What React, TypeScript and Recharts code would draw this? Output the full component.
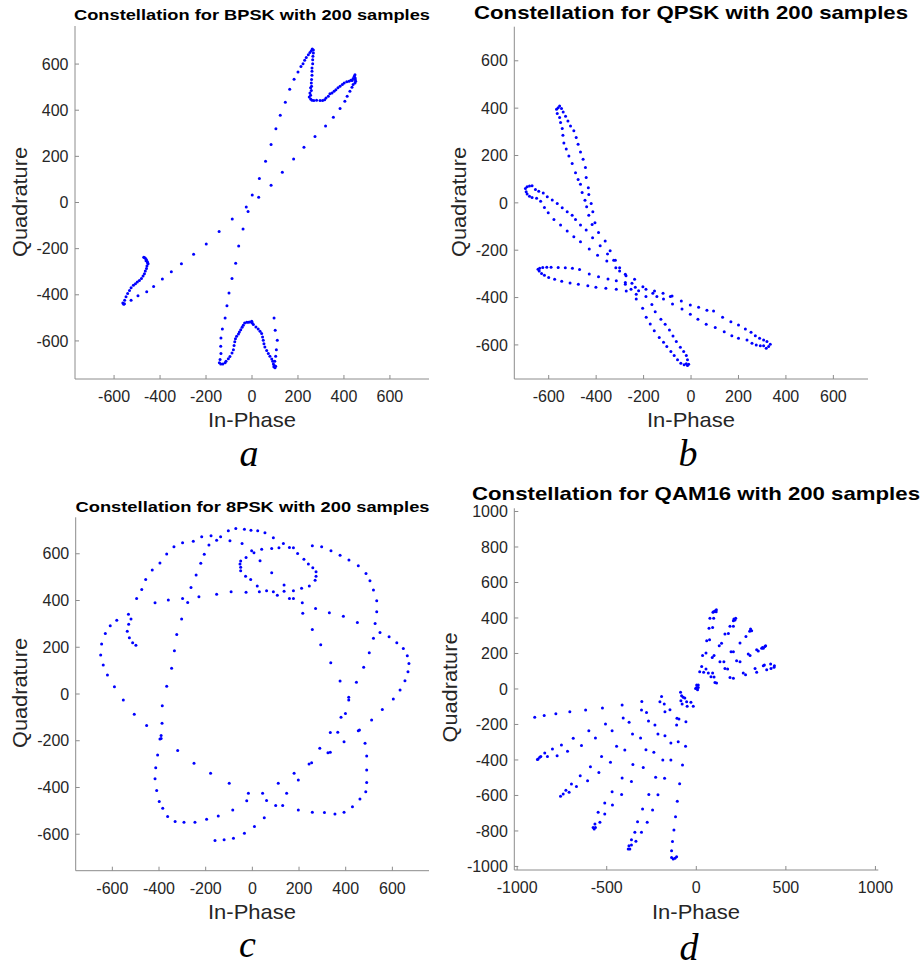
import React from 'react';
import { ScatterChart, Scatter, XAxis, YAxis } from 'recharts';

type Pt = [number, number];

const pskTicks = [-600, -400, -200, 0, 200, 400, 600];
const qamXTicks = [-1000, -500, 0, 500, 1000];
const qamYTicks = [-1000, -800, -600, -400, -200, 0, 200, 400, 600, 800, 1000];

const bpskPoints: Pt[] = [
  [1, 33], [32, 104], [59, 179], [83, 251], [104, 320], [123, 378], [145, 434], [164, 491], [183, 534], [200, 566],
  [213, 590], [222, 601], [229, 617], [236, 629], [245, 640], [252, 650], [258, 658], [262, 665], [267, 661],
  [267, 648], [265, 634], [264, 619], [264, 601], [261, 583], [261, 569], [261, 552], [259, 533], [258, 518], [259, 504],
  [255, 497], [258, 485], [252, 475], [255, 465], [249, 457], [255, 449], [261, 443], [269, 442], [281, 443], [296, 442],
  [307, 442], [316, 445], [322, 453], [332, 461], [339, 471], [348, 475], [357, 482], [365, 489], [374, 497], [383, 504],
  [393, 511], [401, 518], [412, 523], [422, 526], [430, 530], [436, 529], [440, 537], [445, 547], [448, 554], [449, 540],
  [449, 533], [451, 526], [448, 518], [440, 511], [435, 500], [426, 482],
  [414, 461], [404, 439], [383, 407], [354, 369], [320, 332], [274, 286], [226, 240], [181, 188], [132, 131], [83, 75], [29, 23],
  [-25, -20], [-17, -39], [-86, -72], [-143, -126], [-199, -180], [-254, -224], [-307, -266], [-351, -300], [-390, -332],
  [-428, -364], [-458, -387], [-496, -404], [-526, -424], [-555, -439],
  [-39, -115], [-58, -188], [-71, -263], [-87, -329], [-100, -392], [-109, -447], [-117, -501],
  [-471, -237], [-464, -242], [-459, -248], [-455, -257], [-452, -265], [-457, -275], [-459, -286], [-464, -297],
  [-468, -309], [-474, -319], [-481, -329], [-490, -338], [-499, -345], [-507, -352], [-516, -359], [-526, -369],
  [-533, -381], [-541, -394], [-548, -408], [-554, -424], [-562, -436], [-558, -441], [-467, -240], [-461, -252], [-454, -262],
  [-129, -548], [-135, -587], [-136, -623], [-135, -655], [-139, -681], [-142, -695], [-136, -700], [-127, -700], [-117, -695],
  [-113, -688], [-103, -677], [-96, -667], [-87, -652], [-81, -638], [-78, -620], [-75, -604], [-72, -591], [-67, -580],
  [-59, -570], [-55, -561], [-49, -551], [-43, -541], [-38, -532], [-32, -522], [-23, -519], [-16, -519], [-9, -518],
  [-1, -515], [1, -522], [6, -529], [17, -540], [27, -548], [35, -558], [42, -568], [46, -583], [49, -597], [52, -612],
  [56, -626], [64, -641], [71, -655], [78, -666], [86, -678], [90, -688], [93, -700], [97, -707], [103, -710],
  [96, -501], [101, -554], [110, -597], [106, -638], [103, -666], [99, -688], [100, -716], [95, -712],
];

const qpskPoints: Pt[] = [
  [-554, 409], [-560, 402], [-567, 395], [-546, 398], [-564, 377], [-539, 384], [-554, 360], [-529, 366], [-550, 339],
  [-519, 346], [-543, 314], [-508, 325], [-540, 286], [-494, 304], [-536, 253], [-484, 276], [-526, 227], [-476, 248],
  [-515, 198], [-466, 215], [-501, 166], [-455, 184], [-487, 127], [-445, 149], [-476, 99], [-442, 107], [-466, 79],
  [-433, 64], [-459, 44], [-431, 35], [-447, 11], [-421, -3], [-440, -17], [-414, -38], [-431, -52], [-405, -84], [-417, -91],
  [-691, 68], [-681, 71], [-670, 72], [-698, 61], [-695, 47], [-691, 37], [-681, 28], [-670, 23], [-656, 56], [-651, 19],
  [-642, 49], [-623, 42], [-634, 7], [-618, -20], [-606, 26], [-585, 12], [-602, -42], [-564, -3], [-578, -70], [-543, -21],
  [-550, -94], [-522, -38], [-522, -119], [-501, -52], [-494, -143], [-487, -70], [-466, -164], [-466, -94],
  [-645, -280], [-638, -276], [-625, -273], [-608, -272], [-590, -272], [-560, -273], [-530, -274], [-500, -276], [-470, -281],
  [-640, -288], [-630, -298], [-618, -306], [-600, -315], [-575, -323], [-545, -331], [-510, -338], [-475, -344],
  [-442, -115], [-390, -125], [-415, -147], [-362, -161], [-429, -195], [-383, -181], [-341, -202], [-394, -221], [-352, -216],
  [-326, -242], [-319, -242], [-355, -246], [-317, -274], [-301, -274], [-301, -288], [-429, -301], [-390, -312], [-350, -322],
  [-315, -329], [-277, -302], [-274, -308], [-238, -323], [-277, -336], [-249, -340], [-277, -344], [-435, -350], [-401, -357],
  [-359, -361], [-315, -365], [-273, -372], [-253, -365], [-235, -357], [-221, -371], [-203, -354], [-190, -365], [-231, -386],
  [-190, -396], [-231, -406], [-161, -382], [-154, -372], [-144, -396], [-118, -382], [-116, -406], [-87, -396], [-80, -393],
  [-78, -427], [-41, -415], [-38, -448], [-3, -431], [-3, -471], [32, -441], [67, -454], [95, -457], [-204, -445], [-165, -429],
  [-151, -460],
  [133, -483], [168, -502], [200, -516], [229, -533], [253, -547], [271, -561], [289, -572], [306, -579], [320, -586],
  [334, -597], [327, -607], [317, -614], [306, -604], [292, -604], [275, -600], [257, -593], [236, -579], [200, -572],
  [172, -561], [140, -544], [102, -527], [64, -513], [29, -492],
  [-189, -483], [-172, -512], [-155, -540], [-134, -569], [-116, -589], [-102, -607], [-85, -628], [-71, -645], [-57, -663],
  [-43, -677], [-29, -684], [-15, -687], [-127, -492], [-109, -513], [-91, -537], [-76, -562], [-62, -586], [-45, -610],
  [-31, -628], [-20, -645], [-15, -663], [-10, -682], [-20, -680],
];

const psk8Points: Pt[] = [
  [-650, 167], [-646, 214], [-639, 124], [-630, 259], [-621, 81], [-609, 292], [-591, 31], [-581, 316], [-553, -26],
  [-506, -87], [-453, -135],
  [-531, 341], [-520, 321], [-530, 298], [-536, 269], [-527, 241], [-513, 219], [-499, 209],
  [-496, 409], [-474, 447], [-457, 490], [-429, 530], [-396, 561], [-367, 599], [-336, 630], [-299, 647], [-253, 654],
  [-217, 673], [-177, 677], [-136, 673], [-103, 698], [-71, 708], [-34, 705], [-6, 701], [23, 698], [54, 690], [90, 668],
  [133, 644], [159, 627], [176, 626],
  [257, 634], [297, 630], [337, 613], [376, 594], [414, 573], [454, 549], [487, 516], [504, 485], [519, 445], [533, 399],
  [533, 352], [526, 302], [519, 238], [501, 177], [477, 114], [446, 50], [413, -14], [413, -26], [399, -83], [366, -164],
  [334, -249],
  [547, 263], [586, 245], [619, 219], [647, 195], [664, 164], [671, 131], [667, 95], [654, 57], [633, 17], [604, -21],
  [557, -66], [511, -111], [459, -154], [454, -157], [483, -211], [490, -265], [490, -325], [490, -379], [486, -418],
  [461, -449], [429, -482], [393, -506], [354, -513], [309, -507], [257, -506], [197, -496], [130, -477], [100, -477],
  [61, -456], [51, -529], [9, -567], [-34, -596], [-81, -617], [-121, -624], [-160, -627],
  [-17, -425], [44, -425], [-24, -457], [-146, -522], [-196, -536], [-246, -549], [-293, -549], [-331, -546], [-363, -524],
  [-384, -489], [-399, -460], [-410, -413], [-417, -363], [-414, -315], [-406, -261], [-396, -192], [-391, -178],
  [-387, -125], [-386, -50], [-367, 33], [-346, 110], [-334, 185], [-324, 255], [-303, 321], [-299, 409],
  [-360, 402], [-417, 390], [-277, 392], [-229, 416], [-153, 427], [-91, 437], [-27, 435], [30, 437], [61, 442], [107, 423],
  [136, 440], [176, 442], [176, 409], [159, 409], [214, 390], [216, 345], [257, 276], [271, 366], [330, 348], [390, 333],
  [450, 306],
  [293, 211], [336, 134], [376, 56], [380, -100], [393, -204], [334, -165], [289, -232], [324, -251], [254, -294],
  [243, -299], [197, -368], [179, -339], [147, -425], [111, -382],
  [-50, 569], [-53, 556], [-50, 542], [-50, 527], [-29, 504], [-7, 490], [21, 462], [-27, 584], [-3, 613], [7, 604],
  [40, 619], [33, 570], [83, 519], [83, 623], [114, 626], [194, 601], [221, 576], [240, 556], [259, 540], [273, 523],
  [273, 504], [269, 487], [244, 462], [211, 452], [136, 466], [90, 438],
  [-186, 637], [-206, 598], [-221, 559], [-241, 509], [-263, 456], [-153, 658], [-96, 656], [-44, 644],
  [-391, -190], [-320, -242], [-250, -296], [-179, -339], [-99, -382], [-84, -496],
];

const qam16Points: Pt[] = [
  [112, 447], [111, 435], [97, 435], [104, 440], [93, 432], [76, 398], [97, 398], [210, 394], [220, 398], [207, 385],
  [216, 388], [71, 342], [91, 347], [188, 353], [207, 353], [303, 338], [309, 328], [298, 325], [160, 310], [179, 313],
  [58, 272], [74, 278], [277, 295], [141, 257], [128, 244], [244, 259], [370, 234], [383, 240], [387, 244], [365, 229],
  [374, 229], [194, 210], [207, 210], [337, 221], [346, 214], [54, 203], [89, 178], [99, 188], [290, 197], [300, 188],
  [35, 188], [132, 154], [154, 154], [225, 159], [244, 154], [374, 131], [380, 135], [415, 141], [436, 131], [434, 122],
  [417, 116], [160, 116], [175, 112], [328, 116], [30, 126], [54, 112], [19, 97], [41, 94], [67, 90], [91, 90],
  [262, 90], [275, 80], [337, 94], [393, 109], [82, 69], [99, 67], [188, 65], [207, 60], [104, 37], [113, 34],
  [11, 22], [2, 22], [2, 9], [11, 9], [-4, 3], [7, -4],
  [-902, -160], [-849, -150], [-784, -139], [-706, -128], [-618, -119], [-524, -107], [-414, -90], [-304, -70], [-194, -42],
  [-883, -395], [-874, -385], [-868, -380], [-887, -398], [-831, -381], [-846, -361], [-803, -338], [-777, -376],
  [-753, -316], [-719, -351], [-687, -278], [-641, -319], [-600, -235], [-563, -276], [-507, -197], [-470, -235],
  [-408, -164], [-375, -188], [-306, -119], [-278, -132], [-203, -72], [-179, -85],
  [-758, -605], [-743, -592], [-728, -571], [-710, -582], [-697, -535], [-669, -549], [-648, -489], [-607, -517],
  [-591, -438], [-544, -470], [-529, -380], [-479, -413], [-445, -323], [-399, -344], [-356, -254], [-311, -276],
  [-267, -181], [-231, -203], [-214, -254], [-175, -263],
  [-576, -780], [-570, -789], [-563, -780], [-566, -761], [-538, -751], [-548, -695], [-511, -705], [-511, -643],
  [-468, -654], [-470, -579], [-417, -594], [-414, -502], [-362, -522], [-354, -425], [-296, -442], [-281, -342], [-237, -357],
  [-376, -883], [-371, -902], [-380, -902], [-362, -879], [-337, -858], [-362, -849], [-343, -808], [-306, -808],
  [-328, -748], [-274, -751], [-300, -676], [-244, -682], [-265, -594], [-214, -596], [-227, -498], [-177, -503],
  [-187, -400], [-142, -400], [-142, -304], [-101, -297], [-110, -203], [-97, -169], [-58, -184],
  [-138, -949], [-129, -958], [-119, -954], [-110, -945], [-138, -911], [-133, -860], [-125, -795], [-116, -720],
  [-106, -633], [-93, -534], [-77, -428], [-60, -323],
  [-88, -19], [-82, -38], [-73, -47], [-64, -51], [-86, -66], [-79, -85], [-54, -72], [-30, -75], [-51, -98], [-17, -98],
  [-147, -117], [-108, -165], [-175, -128],
];

const FONT = '"Liberation Sans", Arial, Helvetica, sans-serif';
const AXIS_GRAY = '#8c8c8c';
const TEXT_DARK = '#262626';

const Dot = (props: any) => <circle cx={props.cx} cy={props.cy} r={1.5} fill="#0000ff" />;
const NoDot = () => <g />;

interface PanelProps {
  left: number;
  top: number;
  w: number;
  h: number;
  box: { l: number; t: number; r: number; b: number };
  xDomain: [number, number];
  yDomain: [number, number];
  xTicks: number[];
  yTicks: number[];
  points: Pt[];
}

const Panel: React.FC<PanelProps> = ({ left, top, w, h, box, xDomain, yDomain, xTicks, yTicks, points }) => {
  const data = points.map(([x, y]) => ({ x, y }));
  const tickStyle = { fill: TEXT_DARK, fontSize: 16, fontFamily: FONT };
  const line = { stroke: AXIS_GRAY, strokeWidth: 1 };
  return (
    <div style={{ position: 'absolute', left, top, width: w, height: h }}>
      <ScatterChart
        width={w}
        height={h}
        margin={{ top: box.t, right: w - box.r, left: 2, bottom: h - box.b - 30 }}
      >
        <XAxis xAxisId="bottom" type="number" dataKey="x" domain={xDomain} ticks={xTicks} interval={0}
          height={30} tickSize={-4} tickMargin={15.5} tick={tickStyle} axisLine={line} tickLine={line} />
        <XAxis xAxisId="top" orientation="top" type="number" dataKey="x" domain={xDomain} ticks={xTicks} interval={0}
          height={0} tickSize={-4} tickFormatter={() => ''} axisLine={line} tickLine={line} />
        <YAxis yAxisId="left" type="number" dataKey="y" domain={yDomain} ticks={yTicks} interval={0}
          width={box.l - 2} tickSize={-4} tickMargin={10.5} tick={tickStyle} axisLine={line} tickLine={line} />
        <YAxis yAxisId="right" orientation="right" type="number" dataKey="y" domain={yDomain} ticks={yTicks} interval={0}
          width={0} tickSize={-4} tickFormatter={() => ''} axisLine={line} tickLine={line} />
        <Scatter data={data} xAxisId="top" yAxisId="right" shape={NoDot} isAnimationActive={false} />
        <Scatter data={data} xAxisId="bottom" yAxisId="left" shape={Dot} isAnimationActive={false} />
      </ScatterChart>
    </div>
  );
};

const Title: React.FC<{ x: number; y: number; size: number; len: number; children: string }> = ({ x, y, size, len, children }) => (
  <text x={x} y={y} textAnchor="middle" fontFamily={FONT} fontWeight="bold" fontSize={size} fill="#000"
    textLength={len} lengthAdjust="spacingAndGlyphs">{children}</text>
);

const XLabel: React.FC<{ x: number; y: number }> = ({ x, y }) => (
  <text x={x} y={y} textAnchor="middle" fontFamily={FONT} fontSize={21} fill={TEXT_DARK}
    textLength={88} lengthAdjust="spacingAndGlyphs">In-Phase</text>
);

const YLabel: React.FC<{ x: number; y: number }> = ({ x, y }) => (
  <text x={x} y={y} textAnchor="middle" fontFamily={FONT} fontSize={21} fill={TEXT_DARK}
    transform={`rotate(-90 ${x} ${y})`} textLength={110} lengthAdjust="spacingAndGlyphs">Quadrature</text>
);

// panel letters sit just under the x labels, as in the source figure
const Letter: React.FC<{ x: number; y: number; children: string }> = ({ x, y, children }) => (
  <text x={x} y={y} textAnchor="middle" fontFamily='"Liberation Serif", "Times New Roman", serif'
    fontStyle="italic" fontSize={38} fill="#000">{children}</text>
);

export default function App() {
  return (
    <div style={{ position: 'absolute', left: 0, top: 0, width: 924, height: 969, background: '#fff' }}>
      <Panel left={0} top={0} w={462} h={480} box={{ l: 75, t: 26, r: 429, b: 379 }}
        xDomain={[-770, 770]} yDomain={[-765, 765]} xTicks={pskTicks} yTicks={pskTicks} points={bpskPoints} />
      <Panel left={462} top={0} w={462} h={480} box={{ l: 52.3, t: 26.7, r: 406, b: 379 }}
        xDomain={[-745, 746]} yDomain={[-744, 744]} xTicks={pskTicks} yTicks={pskTicks} points={qpskPoints} />
      <Panel left={0} top={480} w={462} h={489} box={{ l: 75.7, t: 37.3, r: 429, b: 390.7 }}
        xDomain={[-757, 757]} yDomain={[-756, 756]} xTicks={pskTicks} yTicks={pskTicks} points={psk8Points} />
      <Panel left={462} top={480} w={462} h={489} box={{ l: 52.3, t: 28.3, r: 416.3, b: 390 }}
        xDomain={[-1016, 1016]} yDomain={[-1020, 1018]} xTicks={qamXTicks} yTicks={qamYTicks} points={qam16Points} />
      <svg width={924} height={969} style={{ position: 'absolute', left: 0, top: 0, pointerEvents: 'none' }}>
        <Title x={252} y={19.5} size={15.5} len={356}>Constellation for BPSK with 200 samples</Title>
        <Title x={691} y={18.5} size={18.5} len={434}>Constellation for QPSK with 200 samples</Title>
        <Title x={252.5} y={512} size={15.5} len={354}>Constellation for 8PSK with 200 samples</Title>
        <Title x={696} y={499.5} size={18.5} len={448}>Constellation for QAM16 with 200 samples</Title>
        <XLabel x={252} y={427} />
        <XLabel x={691} y={427} />
        <XLabel x={252} y={918.5} />
        <XLabel x={696} y={918.5} />
        <YLabel x={27} y={202} />
        <YLabel x={466} y={202} />
        <YLabel x={26.5} y={693} />
        <YLabel x={456.5} y={687.5} />
        <Letter x={249} y={465.5}>a</Letter>
        <Letter x={688} y={465.5}>b</Letter>
        <Letter x={247.5} y={957}>c</Letter>
        <Letter x={689} y={960}>d</Letter>
      </svg>
    </div>
  );
}
